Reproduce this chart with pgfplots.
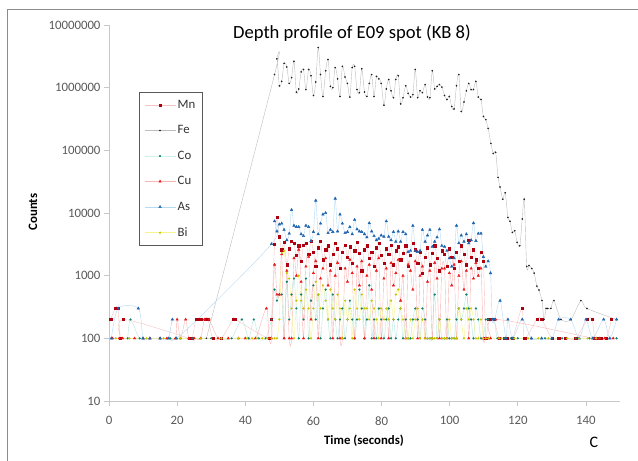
\documentclass[border=0pt]{standalone}
\usepackage{pgfplots}
\pgfplotsset{compat=1.18}
\usepackage{pgfplotstable}
\usepackage{fontspec}
\setmainfont{Carlito}
\definecolor{mnM}{HTML}{B00010}
\definecolor{mnL}{HTML}{F6C4C4}
\definecolor{feM}{HTML}{202020}
\definecolor{feL}{HTML}{BDBDBD}
\definecolor{coM}{HTML}{10806C}
\definecolor{coL}{HTML}{B8E8E0}
\definecolor{cuM}{HTML}{F01818}
\definecolor{cuL}{HTML}{F9B4B4}
\definecolor{asM}{HTML}{1F64AE}
\definecolor{asL}{HTML}{B6DAF4}
\definecolor{biM}{HTML}{C8C400}
\definecolor{biL}{HTML}{F7F490}
\definecolor{axisgray}{HTML}{C8C8C8}
\definecolor{ticktext}{HTML}{595959}
\pgfplotsset{myleg/.style={legend image code/.code={\draw[mark repeat=2,mark phase=2,##1] plot coordinates {(0pt,0pt)(15.5pt,0pt)(31pt,0pt)};}}}

\pgfplotstableread{
t Mn Fe Co Cu As Bi
0.5 200 nan nan nan nan nan
0.7 nan nan nan nan 100 nan
1.0 nan nan nan 100 nan nan
1.8 300 nan nan nan nan nan
2.0 nan nan nan nan nan 100
2.6 300 nan nan nan nan nan
2.7 nan nan nan nan 300 nan
3.0 nan nan nan 100 nan nan
3.4 100 nan nan nan nan nan
4.0 nan nan nan 100 nan nan
4.2 200 nan nan nan nan nan
5.5 nan nan 100 nan nan nan
6.0 nan nan nan nan nan 100
6.3 nan nan 200 nan nan nan
7.5 nan nan nan 100 nan nan
8.6 nan nan nan nan 300 nan
9.0 nan nan 100 nan nan nan
10.0 nan nan nan 100 100 nan
11.0 nan nan nan nan nan 100
12.0 nan nan 100 100 100 nan
15.0 nan nan 100 100 100 nan
16.0 nan nan nan nan nan 100
17.0 nan nan nan 100 nan nan
17.5 nan nan nan nan 100 nan
18.0 nan nan 100 nan nan nan
18.6 nan nan nan nan 200 nan
19.5 nan nan nan 100 nan nan
19.8 nan nan nan nan 100 nan
20.0 nan nan nan 200 nan nan
21.0 nan nan 100 100 nan 100
22.5 nan nan nan 200 nan nan
23.4 nan nan nan 100 nan nan
23.7 100 nan nan nan nan nan
24.4 100 nan 100 nan nan nan
25.0 nan nan nan 100 nan nan
25.5 200 nan nan nan nan nan
26.2 200 nan nan nan nan nan
26.9 200 nan nan 100 nan nan
27.0 nan nan 100 nan nan 100
28.0 nan nan nan 200 nan nan
28.4 200 nan nan nan nan nan
28.6 nan 100 nan nan nan nan
29.1 200 nan nan nan nan nan
29.4 nan nan nan 200 nan nan
30.0 nan nan 100 nan nan nan
30.5 100 nan nan nan nan nan
32.0 nan nan nan 100 nan nan
33.0 100 nan 100 nan nan 100
35.0 nan nan nan 100 nan nan
36.0 nan nan 100 nan nan nan
36.4 200 nan nan nan nan nan
37.1 200 nan nan nan nan nan
38.0 nan nan nan 100 nan 100
39.0 nan nan 200 nan nan nan
40.0 nan nan nan 100 nan nan
40.5 nan nan nan nan nan 100
41.0 nan nan 100 nan nan nan
42.0 nan nan nan nan nan 100
42.5 nan nan 200 nan nan nan
43.0 nan nan nan 100 nan nan
43.5 nan nan nan nan nan 100
44.0 nan nan 100 nan nan nan
45.0 nan nan nan nan nan 100
46.0 nan nan 100 nan nan nan
46.2 nan nan nan 300 nan nan
46.5 nan nan nan nan nan 100
47.0 nan nan nan 100 nan nan
47.1 100 nan nan nan nan nan
47.7 200 nan 200 100 3200 100
48.6 3200 1620000 600 1500 7400 100
49.3 8500 2880000 400 500 5100 100
50.0 4200 1070000 500 500 6600 200
50.7 2600 1260000 500 2200 6800 2300
51.4 3400 2450000 100 100 5400 2500
52.2 1500 2140000 800 1200 3700 1100
52.9 2700 1170000 200 100 4700 900
53.6 3500 1450000 500 100 11200 300
54.3 3300 2630000 900 1900 6300 100
55.0 2100 851000 300 1000 6000 400
55.7 3000 955000 100 2600 6000 1000
56.4 1700 1780000 500 800 4600 400
57.1 3100 1950000 200 100 4300 300
57.8 3300 933000 900 1400 6300 600
58.6 2200 1950000 100 2000 6000 300
59.3 3600 1550000 400 200 3600 100
60.0 2400 750000 700 1100 5000 300
60.7 1400 1230000 200 1700 15800 800
61.4 2800 4370000 500 100 4600 500
62.1 3500 1620000 100 900 6800 300
62.8 1800 724000 300 1300 9500 700
63.6 2600 1860000 600 1900 10000 400
64.3 3000 2820000 200 700 4800 200
65.0 1500 1050000 100 1200 5400 600
65.7 2200 1000000 500 100 5000 300
66.4 3300 2090000 200 1000 17000 200
67.1 2700 1380000 100 1600 5100 500
67.8 1300 724000 200 100 9500 300
68.5 2400 2190000 300 100 6800 100
69.3 3100 1480000 100 1300 4800 400
70.0 2000 1170000 200 800 5000 200
70.7 2900 708000 400 1800 6000 300
71.4 1600 2090000 200 1100 4600 100
72.1 2500 2190000 100 100 7800 600
72.8 3400 933000 200 1400 5500 300
73.5 2300 832000 600 700 5100 200
74.2 1200 2000000 300 1700 5000 500
75.0 2600 851000 100 100 4600 300
75.7 3000 724000 200 1000 4100 300
76.4 1900 1170000 700 1500 6900 200
77.1 2400 1620000 100 600 5100 400
77.8 1400 724000 200 100 4300 300
78.5 2800 1510000 100 1200 3700 200
79.2 3300 1380000 300 1900 3900 100
79.9 2100 1170000 200 100 4400 300
80.7 1600 525000 100 900 4200 200
81.4 2700 955000 200 1300 7400 300
82.1 2200 1350000 300 100 4200 200
82.8 3100 891000 100 1600 3700 400
83.5 1500 692000 200 700 5000 200
84.2 2500 1350000 100 1100 3500 500
84.9 2900 1550000 200 1800 5100 600
85.6 1800 550000 300 400 3500 300
86.3 2300 692000 100 1000 5000 200
87.1 3000 1070000 200 100 4600 100
87.8 1400 813000 100 1500 2400 100
88.5 2100 708000 100 1200 2500 200
89.2 3300 776000 200 600 6300 100
89.9 2600 1950000 300 1700 2500 200
90.6 1600 692000 200 100 2400 300
91.3 2400 891000 100 1000 2500 100
92.0 1100 832000 300 1400 5400 200
92.8 2000 1120000 200 100 3500 100
93.5 2800 708000 100 800 4400 100
94.2 1500 692000 100 1200 5400 100
94.9 2300 1860000 100 100 2900 100
95.6 3000 955000 500 1600 3500 100
96.3 1900 1050000 100 900 4100 100
97.0 1200 1120000 200 100 5500 200
97.7 2500 1020000 100 1300 3000 100
98.5 2200 750000 100 1300 2900 100
99.2 1400 646000 200 100 2500 100
99.9 2700 724000 100 1100 1900 200
100.6 2000 501000 100 700 1400 100
101.3 1300 457000 100 1500 1900 100
102.0 2400 1070000 200 100 6300 100
102.7 1700 1620000 300 1000 3300 300
103.4 3000 417000 200 1700 4400 200
104.2 2200 589000 300 600 3500 100
104.9 1500 891000 500 1200 4600 300
105.6 3700 1170000 300 100 3300 200
106.3 2000 933000 200 1300 3700 300
107.0 2600 933000 100 900 6900 200
107.7 1800 1260000 300 1600 3600 100
108.4 1300 708000 200 1000 4700 100
109.2 2400 646000 100 1300 4700 200
109.9 1700 347000 100 100 2000 100
110.6 100 309000 200 100 1400 100
111.3 200 224000 200 100 1700 100
112.0 200 nan nan 100 1100 nan
112.1 nan 129000 nan nan nan nan
112.5 nan nan nan nan 200 nan
112.8 nan 89000 nan nan nan nan
113.0 200 nan 200 nan nan nan
113.2 nan nan nan nan 200 nan
113.5 nan 93000 nan 200 nan nan
114.0 nan nan 100 nan nan nan
114.2 nan 37000 nan nan nan nan
114.5 100 nan nan nan nan 100
114.8 nan 26000 nan nan 400 nan
115.2 nan nan nan nan nan 100
115.6 nan 16600 nan nan nan nan
116.0 100 nan 100 nan nan nan
116.3 nan 21000 nan nan nan nan
116.5 nan nan nan nan 100 nan
117.0 100 nan nan nan nan nan
117.1 nan 8500 nan nan 200 nan
117.7 nan 7400 nan nan nan nan
118.0 nan nan 100 nan nan nan
118.4 nan 4900 nan nan nan nan
118.5 100 nan nan nan 100 nan
119.0 nan nan nan nan nan 100
119.1 nan 5200 nan nan nan nan
119.8 nan 3400 nan nan nan nan
120.0 nan nan 100 nan nan nan
120.6 nan 3000 nan nan nan nan
121.2 300 nan nan nan nan nan
121.3 nan 8000 nan nan 200 nan
121.9 nan 16600 nan nan nan nan
122.0 100 nan nan nan nan nan
122.6 nan 1400 nan nan nan nan
123.0 nan nan nan nan nan 100
123.3 nan 1450 nan nan nan nan
124.0 nan nan 100 nan 100 nan
124.1 nan 1300 nan nan nan nan
124.8 nan 1100 nan nan nan nan
125.6 200 680 nan nan nan nan
126.0 nan nan nan nan nan 100
126.2 nan 590 nan nan nan nan
127.0 200 nan nan nan 100 nan
127.1 nan 400 nan nan nan nan
127.7 nan 200 nan nan nan nan
128.0 nan nan 100 nan nan nan
128.3 nan 300 nan nan nan nan
128.8 nan 300 nan nan nan nan
129.0 nan nan nan nan nan 100
129.7 nan 300 nan nan nan nan
130.0 100 nan nan nan 100 nan
130.6 nan 400 nan nan nan nan
132.0 100 nan nan nan 200 nan
132.7 nan 200 nan nan nan nan
133.0 nan nan 100 nan nan nan
134.0 100 nan nan nan nan nan
134.5 nan nan nan nan nan 100
135.5 nan nan nan nan 200 nan
135.6 nan 200 nan nan nan nan
137.0 100 nan 100 nan nan nan
138.0 nan nan nan nan 100 100
138.5 nan 400 nan nan nan nan
140.0 nan nan nan nan 200 nan
140.3 nan 300 nan nan nan nan
140.4 200 nan nan nan nan nan
140.5 nan nan nan nan nan 100
141.0 nan nan 100 nan nan nan
141.8 200 nan nan nan nan nan
142.0 nan nan nan nan 100 nan
142.2 nan nan nan 100 nan nan
142.6 100 nan nan nan nan nan
143.0 nan nan nan 100 nan 100
143.5 100 nan nan nan nan nan
144.0 nan nan 100 100 nan nan
144.5 100 nan nan nan nan nan
145.2 nan nan nan nan 200 nan
145.5 nan nan nan 100 nan nan
146.0 100 nan nan nan nan nan
147.0 nan nan nan nan 100 nan
147.5 200 nan nan nan nan nan
148.0 nan nan nan 100 nan nan
149.0 nan 200 100 nan 200 nan
}\data

\begin{document}
\begin{tikzpicture}
\useasboundingbox (0pt,0pt) rectangle (638pt,461pt);
\draw[black!45, line width=0.9pt] (7pt,-5pt) -- (7pt,452pt) -- (650pt,452pt);
\begin{axis}[
  at={(109pt,60pt)}, anchor=south west,
  scale only axis, width=511pt, height=376pt,
  xmin=0, xmax=150, ymin=10, ymax=10000000,
  ymode=log, log basis y=10,
  xtick={0,20,...,140},
  ytick={10,100,1000,10000,100000,1000000,10000000},
  yticklabels={10,100,1000,10000,100000,1000000,10000000},
  yminorticks=false,
  axis x line*=bottom, axis y line*=left,
  axis line style={axisgray, line width=0.8pt, -},
  tick style={axisgray, line width=0.8pt},
  tick align=outside, major tick length=5pt,
  tick label style={font=\fontsize{12.8}{15}\selectfont, text=ticktext},
  /pgf/number format/assume math mode=true,
  xticklabel style={yshift=-7pt},
  legend style={at={(0.0587,0.822)}, anchor=north west, draw=black!65, line width=0.7pt,
    font=\fontsize{12.8}{15}\selectfont, text=black!80, row sep=11.7pt, inner xsep=5pt, inner ysep=6pt,
    cells={anchor=west}, /tikz/every even column/.append style={column sep=4pt}},
]
\addplot[smooth, line width=0.4pt, mnL, mark=square*, mark size=1.1pt, mark options={fill=mnM, draw=mnM}, myleg] table[x=t, y=Mn] {\data};
\addlegendentry{Mn}
\addplot[smooth, line width=0.4pt, feL, mark=*, mark size=0.6pt, mark options={fill=feM, draw=feM}, myleg] table[x=t, y=Fe] {\data};
\addlegendentry{Fe}
\addplot[smooth, line width=0.4pt, coL, mark=*, mark size=0.9pt, mark options={fill=coM, draw=coM}, myleg] table[x=t, y=Co] {\data};
\addlegendentry{Co}
\addplot[smooth, line width=0.4pt, cuL, mark=triangle*, mark size=1.4pt, mark options={fill=cuM, draw=cuM}, myleg] table[x=t, y=Cu] {\data};
\addlegendentry{Cu}
\addplot[smooth, line width=0.4pt, asL, mark=triangle*, mark size=1.5pt, mark options={fill=asM, draw=asM}, myleg] table[x=t, y=As] {\data};
\addlegendentry{As}
\addplot[smooth, line width=0.4pt, biL, mark=*, mark size=0.9pt, mark options={fill=biM, draw=biM}, myleg] table[x=t, y=Bi] {\data};
\addlegendentry{Bi}
\end{axis}
\node[font=\fontsize{18.6}{22}\selectfont] at (352pt,428pt) {Depth profile of E09 spot (KB 8)};
\node[rotate=90, font=\bfseries\fontsize{12.8}{15}\selectfont] at (33pt,249pt) {Counts};
\node[font=\bfseries\fontsize{12.8}{15}\selectfont] at (364pt,20pt) {Time (seconds)};
\node[font=\fontsize{16}{19}\selectfont] at (594pt,19pt) {C};
\end{tikzpicture}
\end{document}
